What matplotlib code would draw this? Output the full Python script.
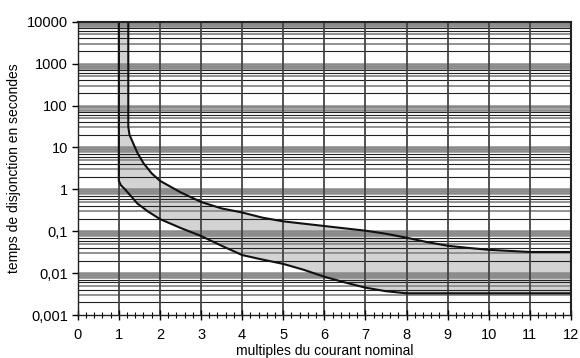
import numpy as np
import matplotlib.pyplot as plt

plt.rcParams['font.family'] = ['Liberation Sans', 'DejaVu Sans']

# courbe de déclenchement (lecture sur le graphique)
low_x = [1.0, 1.0, 1.05, 1.15, 1.3, 1.45, 1.7, 2.0, 2.5, 3.0, 3.5, 4.0, 4.5,
         5.0, 5.5, 6.0, 6.5, 7.0, 7.5, 8.0, 9.0, 12.0]
low_t = [10000, 1.6, 1.25, 1.0, 0.68, 0.46, 0.30, 0.195, 0.12, 0.077, 0.045,
         0.027, 0.021, 0.0166, 0.012, 0.0082, 0.0060, 0.0045, 0.0037, 0.0033,
         0.0033, 0.0033]

up_x = [1.23, 1.23, 1.26, 1.35, 1.45, 1.6, 1.8, 2.0, 2.5, 3.0, 3.5, 4.0, 4.5,
        5.0, 6.0, 7.0, 7.5, 8.0, 8.5, 9.0, 9.5, 10.0, 11.0, 12.0]
up_t = [10000, 31, 20, 12.5, 7.5, 4.2, 2.4, 1.6, 0.85, 0.50, 0.35, 0.28, 0.21,
        0.172, 0.133, 0.103, 0.087, 0.070, 0.055, 0.045, 0.040, 0.036, 0.032,
        0.032]

yticks = [0.001, 0.01, 0.1, 1, 10, 100, 1000, 10000]
ylabels = ['0,001', '0,01', '0,1', '1', '10', '100', '1000', '10000']
xticks = list(range(13))

fig = plt.figure(figsize=(5.8, 3.58), dpi=100)
ax = fig.add_axes([0.134, 0.12, 0.8505, 0.8194])
ax.set_yscale('log')
ax.set_xlim(0, 12)
ax.set_ylim(0.001, 10000)

# grille horizontale : bande grise aux décades, lignes alternées
mult_style = {2: ('#222222', 0.8), 3: ('#8a8a8a', 1.3), 4: ('#222222', 0.8),
              5: ('#8a8a8a', 1.3), 6: ('#222222', 0.8), 7: ('#222222', 0.8),
              8: ('#8a8a8a', 1.8), 9: ('#8a8a8a', 1.8)}
for k in range(-3, 4):
    base = 10.0 ** k
    for m, (c, lw) in mult_style.items():
        ax.axhline(m * base, color=c, lw=lw, zorder=1)
    ax.axhline(10 * base, color='#8a8a8a', lw=1.8, zorder=1)
ax.axhline(10000, color='#8a8a8a', lw=2.5, zorder=1)
for x in xticks:
    ax.axvline(x, color='#444444', lw=1.3, zorder=1.5)

poly_x = low_x + up_x[::-1]
poly_t = low_t + up_t[::-1]
ax.fill(poly_x, poly_t, color='#d3d3d3', lw=0, zorder=0.5)
ax.plot(low_x, low_t, color='#111111', lw=1.5, zorder=3)
ax.plot(up_x, up_t, color='#111111', lw=1.5, zorder=3)

ax.set_yticks(yticks)
ax.set_yticklabels(ylabels)
ax.yaxis.set_minor_locator(plt.NullLocator())
ax.set_xticks(xticks)
ax.set_xticks(np.arange(0, 12.01, 0.2), minor=True)
ax.tick_params(axis='y', which='major', direction='out', length=4, width=1,
               labelsize=10.5, pad=3)
ax.tick_params(axis='x', which='major', direction='inout', length=7, width=1,
               labelsize=10.5, pad=6)
ax.tick_params(axis='x', which='minor', direction='inout', length=5, width=0.8)

for s in ax.spines.values():
    s.set_color('#222222')
    s.set_linewidth(1.0)
    s.set_zorder(4)
ax.spines['top'].set_linewidth(1.5)
ax.spines['right'].set_linewidth(1.5)

ax.set_xlabel('multiples du courant nominal', fontsize=10, labelpad=1)
ax.set_ylabel('temps de disjonction en secondes', fontsize=10, labelpad=4)

plt.savefig('out.png', dpi=100)
